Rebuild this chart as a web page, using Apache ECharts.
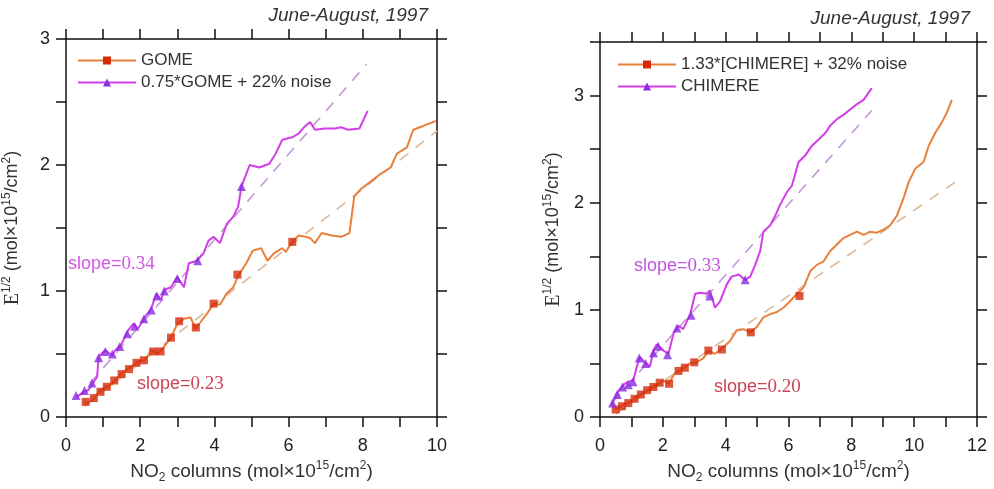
<!DOCTYPE html>
<html>
<head>
<meta charset="utf-8">
<script src="https://cdn.jsdelivr.net/npm/echarts@6/dist/echarts.min.js"></script>
<style>
  html, body { margin: 0; background: #fff; }
  #chart { width: 994px; height: 489px; }
</style>
</head>
<body>
<div id="chart"></div>
<script>
// ---- left panel: GOME vs 0.75*GOME + noise ----
const gomeL = [[0.49,0.11],[0.71,0.13],[0.88,0.2],[1.06,0.24],[1.24,0.26],[1.41,0.32],[1.59,0.37],[1.77,0.4],[1.94,0.44],[2.12,0.45],[2.3,0.53],[2.47,0.5],[2.65,0.56],[2.83,0.63],[3.0,0.74],[3.18,0.78],[3.36,0.79],[3.49,0.7],[3.62,0.75],[3.8,0.82],[3.98,0.9],[4.15,0.89],[4.33,0.98],[4.51,1.03],[4.64,1.12],[4.86,1.22],[5.03,1.32],[5.26,1.34],[5.43,1.24],[5.61,1.3],[5.83,1.34],[5.92,1.31],[6.1,1.39],[6.27,1.44],[6.45,1.43],[6.58,1.42],[6.71,1.38],[6.89,1.46],[7.16,1.44],[7.42,1.43],[7.64,1.46],[7.77,1.75],[7.95,1.81],[8.22,1.87],[8.48,1.93],[8.75,1.98],[8.92,2.09],[9.19,2.14],[9.36,2.28],[9.63,2.31],[9.98,2.35]];
const noiseL = [[0.27,0.16],[0.62,0.22],[0.84,0.32],[0.88,0.48],[1.06,0.53],[1.24,0.49],[1.33,0.53],[1.5,0.58],[1.68,0.69],[1.81,0.74],[1.94,0.7],[2.12,0.79],[2.3,0.86],[2.43,0.98],[2.56,0.93],[2.65,1.01],[2.83,1.03],[3.0,1.11],[3.18,1.03],[3.31,1.22],[3.53,1.24],[3.71,1.3],[3.84,1.4],[3.98,1.43],[4.15,1.38],[4.33,1.53],[4.51,1.59],[4.64,1.67],[4.73,1.83],[4.86,1.93],[4.95,2.0],[5.21,1.98],[5.48,2.01],[5.65,2.09],[5.83,2.2],[6.1,2.22],[6.27,2.25],[6.45,2.31],[6.58,2.34],[6.71,2.28],[6.98,2.29],[7.24,2.29],[7.42,2.3],[7.6,2.28],[7.91,2.29],[8.13,2.43]];
const gomeMarksL = [[0.53,0.12],[0.75,0.15],[0.93,0.2],[1.1,0.24],[1.3,0.29],[1.5,0.34],[1.7,0.38],[1.9,0.43],[2.1,0.45],[2.35,0.52],[2.55,0.52],[2.83,0.63],[3.05,0.76],[3.5,0.71],[3.98,0.9],[4.62,1.13],[6.1,1.39]];
const noiseMarksL = [[0.27,0.17],[0.5,0.21],[0.7,0.27],[0.88,0.47],[1.06,0.52],[1.25,0.5],[1.45,0.56],[1.65,0.66],[1.85,0.72],[2.1,0.78],[2.3,0.85],[2.45,0.96],[2.65,1.0],[3.0,1.1],[3.55,1.24],[4.73,1.83]];
const fitGomeL = [[0.5,0.085],[10,2.27]];
const fitNoiseL = [[0.3,0.15],[8.1,2.8]];

// ---- right panel: CHIMERE vs 1.33*CHIMERE + noise ----
const noiseR = [[0.48,0.07],[0.74,0.11],[0.96,0.14],[1.17,0.19],[1.38,0.22],[1.59,0.27],[1.81,0.3],[2.02,0.34],[2.18,0.31],[2.39,0.41],[2.65,0.45],[2.87,0.5],[3.08,0.51],[3.29,0.55],[3.45,0.62],[3.66,0.59],[3.88,0.64],[4.14,0.71],[4.35,0.81],[4.57,0.82],[4.78,0.79],[4.99,0.84],[5.2,0.93],[5.42,0.96],[5.63,0.98],[5.84,1.02],[6.05,1.08],[6.27,1.15],[6.48,1.21],[6.69,1.36],[6.9,1.42],[7.11,1.45],[7.33,1.55],[7.54,1.61],[7.75,1.67],[7.96,1.7],[8.18,1.73],[8.39,1.7],[8.6,1.73],[8.81,1.72],[9.03,1.75],[9.24,1.79],[9.45,1.88],[9.66,2.04],[9.82,2.19],[10.04,2.32],[10.3,2.38],[10.46,2.53],[10.67,2.65],[10.88,2.75],[11.04,2.84],[11.2,2.96]];
const chimereR = [[0.37,0.11],[0.53,0.22],[0.74,0.3],[0.9,0.33],[1.06,0.34],[1.17,0.47],[1.27,0.56],[1.43,0.51],[1.59,0.47],[1.7,0.62],[1.81,0.68],[2.02,0.62],[2.18,0.59],[2.34,0.78],[2.5,0.85],[2.65,0.82],[2.87,0.96],[3.03,1.15],[3.19,1.16],[3.4,1.15],[3.5,1.18],[3.66,1.02],[3.82,1.08],[4.04,1.24],[4.19,1.31],[4.41,1.33],[4.62,1.28],[4.78,1.31],[4.94,1.42],[5.1,1.55],[5.2,1.73],[5.42,1.79],[5.58,1.88],[5.73,1.98],[5.95,2.1],[6.11,2.16],[6.32,2.38],[6.53,2.44],[6.74,2.53],[6.96,2.59],[7.17,2.65],[7.33,2.72],[7.54,2.78],[7.75,2.82],[7.96,2.87],[8.18,2.92],[8.39,2.96],[8.65,3.07]];
const noiseMarksR = [[0.5,0.07],[0.7,0.1],[0.9,0.13],[1.1,0.17],[1.3,0.21],[1.5,0.25],[1.7,0.28],[1.9,0.32],[2.2,0.31],[2.5,0.43],[2.7,0.46],[3.0,0.51],[3.45,0.62],[3.88,0.63],[4.8,0.79],[6.35,1.13]];
const chimereMarksR = [[0.4,0.13],[0.55,0.21],[0.72,0.28],[0.9,0.3],[1.05,0.33],[1.25,0.55],[1.45,0.5],[1.7,0.6],[1.85,0.66],[2.15,0.58],[2.45,0.83],[2.9,0.95],[3.5,1.13],[4.62,1.28]];
const fitNoiseR = [[0.5,0.03],[11.3,2.19]];
const fitChimereR = [[0.4,0.14],[8.65,2.86]];

const ORANGE = '#e8803c', SQUARE = '#d42a0a';
const MAGENTA = '#d23ee8', TRIANGLE = '#8a2be2';
const FONT = 'Liberation Sans, Arial, sans-serif';

const chart = echarts.init(document.getElementById('chart'));

const axisLine = { show: true, onZero: false, lineStyle: { color: '#111', width: 1.5 } };
const axisTick = { show: true, length: 10, lineStyle: { color: '#111', width: 1.5 } };
const labelStyle = { fontFamily: FONT, fontSize: 18, color: '#222' };
const sup = { fontFamily: FONT, fontSize: 12, verticalAlign: 'top', lineHeight: 12, color: '#333' };
const sub = { fontFamily: FONT, fontSize: 12, verticalAlign: 'bottom', lineHeight: 12, color: '#333' };

function xAxes(gi, max) {
  return [
    { type: 'value', gridIndex: gi, min: 0, max: max, interval: 1, position: 'bottom',
      splitLine: { show: false }, axisLine, axisTick,
      axisLabel: Object.assign({ margin: 20, formatter: v => (v % 2 === 0 ? v : '') }, labelStyle),
      name: 'NO{sub|2} columns (mol\u00d710{sup|15}/cm{sup|2})',
      nameLocation: 'middle', nameGap: 43,
      nameTextStyle: { fontFamily: FONT, fontSize: 19, color: '#333', lineHeight: 24, rich: { sup, sub } } },
    { type: 'value', gridIndex: gi, min: 0, max: max, interval: 1, position: 'top',
      splitLine: { show: false }, axisLine, axisTick, axisLabel: { show: false } }
  ];
}
function yAxes(gi, max, gap) {
  return [
    { type: 'value', gridIndex: gi, min: 0, max: max, interval: 0.5, position: 'left',
      splitLine: { show: false }, axisLine, axisTick,
      axisLabel: Object.assign({ margin: 16, formatter: v => (Number.isInteger(v) ? v : '') }, labelStyle),
      name: '{e|E}{sup|1/2} (mol\u00d710{sup|15}/cm{sup|2})',
      nameLocation: 'middle', nameGap: gap, nameRotate: 90,
      nameTextStyle: { fontFamily: FONT, fontSize: 18, color: '#333', lineHeight: 23,
        rich: { sup, e: { fontFamily: 'Liberation Serif, serif', fontSize: 20, color: '#333', lineHeight: 23 } } } },
    { type: 'value', gridIndex: gi, min: 0, max: max, interval: 0.5, position: 'right',
      splitLine: { show: false }, axisLine, axisTick, axisLabel: { show: false } }
  ];
}

function lineSeries(name, data, xi, yi, color, symbol, symColor) {
  return { type: 'line', name, data, xAxisIndex: xi, yAxisIndex: yi, showSymbol: false,
    symbol, itemStyle: { color: symColor }, lineStyle: { color, width: 2 }, z: 3, animation: false };
}
function markSeries(name, data, xi, yi, symbol, color, size) {
  return { type: 'scatter', name, data, xAxisIndex: xi, yAxisIndex: yi, symbol, symbolSize: size,
    itemStyle: { color }, z: 4, animation: false, silent: true };
}
function fitSeries(name, data, xi, yi, color) {
  return { type: 'line', name, data, xAxisIndex: xi, yAxisIndex: yi, showSymbol: false, symbol: 'none',
    lineStyle: { color, width: 1.6, type: [11, 9] }, z: 2, animation: false, silent: true };
}

function slopeText(left, top, val, color) {
  return { type: 'text', left, top, z: 10,
    style: { text: '{a|slope=}{b|' + val + '}',
      rich: { a: { fontFamily: FONT, fontSize: 18, fill: color },
              b: { fontFamily: 'Liberation Serif, serif', fontSize: 19, fill: color } } } };
}

const titleStyle = { fontFamily: FONT, fontSize: 19, fontStyle: 'italic', fontWeight: 'normal', color: '#333' };

chart.setOption({
  animation: false,
  backgroundColor: '#fff',
  title: [
    { text: 'June-August, 1997', right: 561, top: 1, textStyle: titleStyle },
    { text: 'June-August, 1997', right: 19, top: 4, textStyle: titleStyle }
  ],
  legend: [
    { data: ['GOME', '0.75*GOME + 22% noise'], orient: 'vertical', left: 72, top: 47,
      itemWidth: 58, itemHeight: 10, itemGap: 5, textStyle: { fontFamily: FONT, fontSize: 17, color: '#333' } },
    { data: ['1.33*[CHIMERE] + 32% noise', 'CHIMERE'], orient: 'vertical', left: 612, top: 51,
      itemWidth: 58, itemHeight: 10, itemGap: 5, textStyle: { fontFamily: FONT, fontSize: 17, color: '#333' } }
  ],
  grid: [
    { left: 60, top: 39, width: 377, height: 378 },
    { left: 600, top: 42, width: 377, height: 379 }
  ],
  xAxis: [...xAxes(0, 10), ...xAxes(1, 12)],
  yAxis: [...yAxes(0, 3, 42), ...yAxes(1, 3.5, 35)],
  series: [
    fitSeries('fit gome', fitGomeL, 0, 0, '#dcb89a'),
    fitSeries('fit noise', fitNoiseL, 0, 0, '#c596d8'),
    lineSeries('GOME', gomeL, 0, 0, ORANGE, 'rect', SQUARE),
    lineSeries('0.75*GOME + 22% noise', noiseL, 0, 0, MAGENTA, 'triangle', TRIANGLE),
    markSeries('gome marks', gomeMarksL, 0, 0, 'rect', SQUARE, 8),
    markSeries('noise marks', noiseMarksL, 0, 0, 'triangle', TRIANGLE, 9),

    fitSeries('fit noise r', fitNoiseR, 2, 2, '#dcb89a'),
    fitSeries('fit chimere r', fitChimereR, 2, 2, '#c596d8'),
    lineSeries('1.33*[CHIMERE] + 32% noise', noiseR, 2, 2, ORANGE, 'rect', SQUARE),
    lineSeries('CHIMERE', chimereR, 2, 2, MAGENTA, 'triangle', TRIANGLE),
    markSeries('noise marks r', noiseMarksR, 2, 2, 'rect', SQUARE, 8),
    markSeries('chimere marks r', chimereMarksR, 2, 2, 'triangle', TRIANGLE, 9)
  ],
  graphic: [
    slopeText(68, 255, '0.34', '#d455e6'),
    slopeText(137, 375, '0.23', '#cc4455'),
    slopeText(634, 257, '0.33', '#c055e0'),
    slopeText(714, 378, '0.20', '#cc4455')
  ]
});
</script>
</body>
</html>
